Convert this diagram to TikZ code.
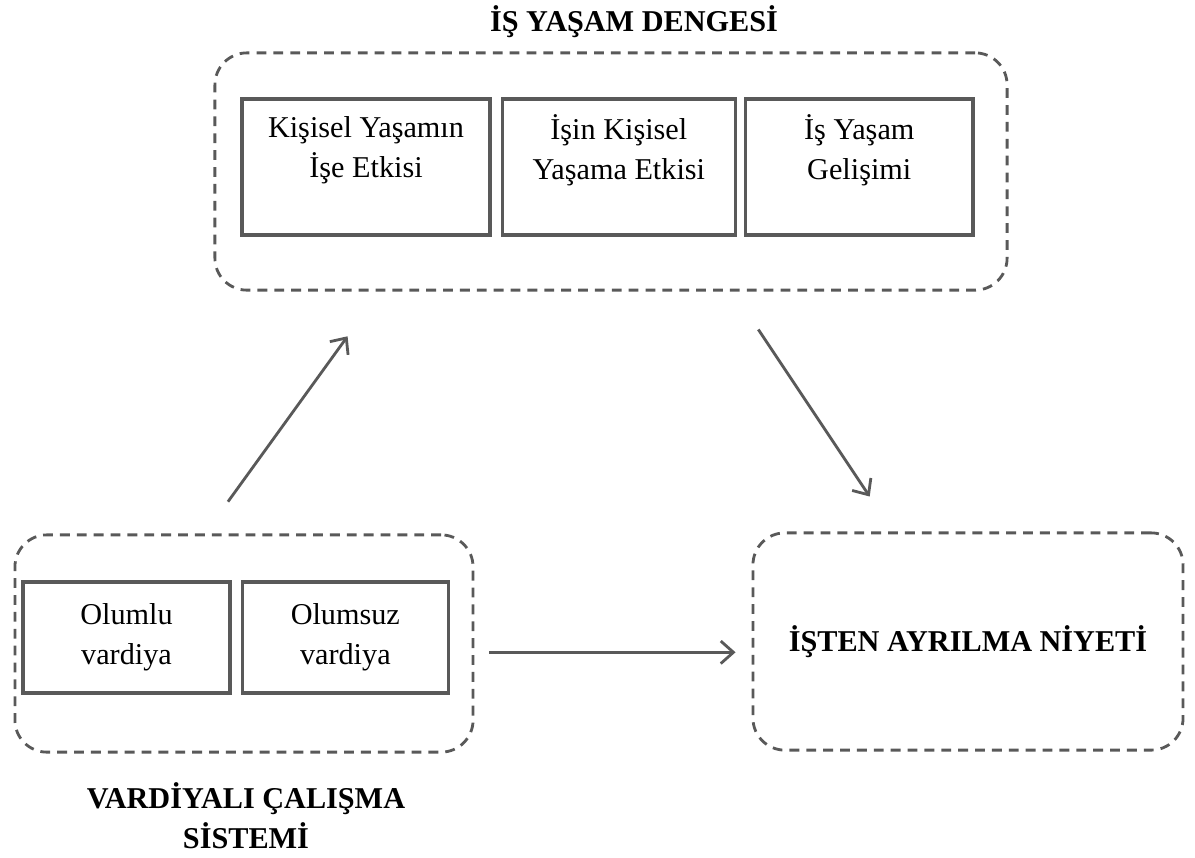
\documentclass[tikz,border=0pt]{standalone}
\usepackage{fontspec}
\setmainfont{Liberation Serif}
\usetikzlibrary{positioning, arrows.meta}
\definecolor{linegray}{gray}{0.35}
\tikzset{group box/.style={draw=linegray, line width=2pt, dash pattern=on 7pt off 5pt, rounded corners=0.8cm, minimum height=5.43cm},
  factor box/.style={draw=linegray, line width=2.4pt, align=center, font=\fontsize{21.5}{28.5}\selectfont, minimum height=3.4cm},
  title/.style={align=center, font=\bfseries\fontsize{21.5}{28.5}\selectfont},
  link/.style={draw=linegray, line width=2pt, -{Straight Barb[length=9pt, width=16pt]}},}

\begin{document}
\begin{tikzpicture}[x=0.025cm, y=-0.025cm]
		\useasboundingbox (0,0) rectangle (1195,857);
		% Groups
		\node[group box, minimum width=19.8cm, minimum height=5.93cm] (denge) at (611,171.5) {};
		\node[group box, minimum width=11.45cm] (vardiya) at (244,643.5) {};
		\node[group box, title, minimum width=10.75cm] (isten) at (968,641.5) {İŞTEN AYRILMA NİYETİ};
		% Factors
		\node[factor box, minimum width=6.2cm] (kisisel) at (366,167) {Kişisel Yaşamın\\İşe Etkisi\\\mbox{}};
		\node[factor box, minimum width=5.83cm] [right = 0.22cm of kisisel] (isin) {İşin Kişisel\\Yaşama Etkisi\\\mbox{}};
		\node[factor box, minimum width=5.68cm] [right = 0.17cm of isin] (gelisim) {İş Yaşam\\Gelişimi\\\mbox{}};
		\node[factor box, minimum width=5.18cm, minimum height=2.78cm] (olumlu) at (126.5,637.5) {Olumlu\\vardiya};
		\node[factor box, minimum width=5.15cm, minimum height=2.78cm] [right = 0.22cm of olumlu] (olumsuz) {Olumsuz\\vardiya};
		% Titles
		\node[title] (dengebaslik) at (634,22) {İŞ YAŞAM DENGESİ};
		\node[title] (vardiyabaslik) at (246,816) {VARDİYALI ÇALIŞMA\\SİSTEMİ};
		% Paths
		\path
		([xshift=-0.975cm]vardiya.north) edge[link, shorten <=0.98cm, shorten >=1.38cm] ([xshift=-5.775cm]denge.south)
		([xshift=3.05cm]denge.south) edge[link, shorten <=1.14cm, shorten >=1.05cm] ([xshift=-1.875cm]isten.north)
		([yshift=-0.22cm]vardiya.east) edge[link, shorten <=0.375cm, shorten >=0.4cm] ([yshift=-0.22cm]vardiya.east -| isten.west);
	\end{tikzpicture}
\end{document}
